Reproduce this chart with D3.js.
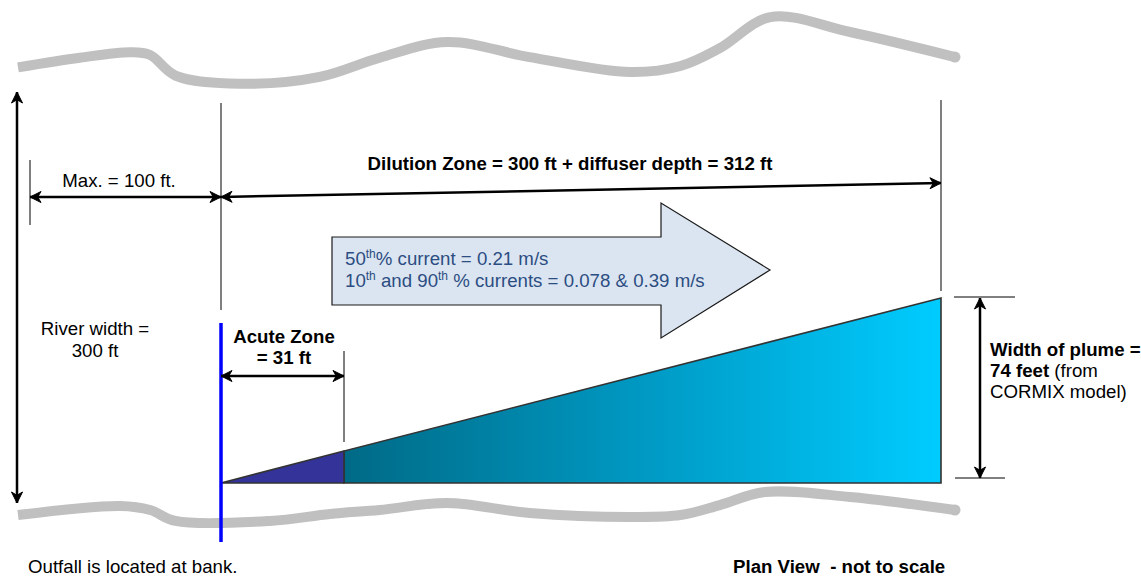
<!DOCTYPE html>
<html>
<head>
<meta charset="utf-8">
<script src="https://cdn.jsdelivr.net/npm/d3@7"></script>
<style>
  html, body { margin: 0; padding: 0; background: #fff; }
  svg { display: block; font-family: "Liberation Sans", Arial, sans-serif; }
  text { white-space: pre; }
</style>
</head>
<body>
<svg id="chart" width="1141" height="578"></svg>
<script>
// ---- Data (feet) ----
const zoneNames      = ["Upstream max", "Outfall", "Acute Zone", "Dilution Zone"];
const zoneDistanceFt = [-100, 0, 31, 312];        // distance along river from outfall
const plumeWidthFt   = [0, 12.8, 74];             // plume width at outfall, acute edge, dilution edge
const riverWidthFt   = 300;
const maxUpstreamFt  = 100;
const dilutionBaseFt = 300;
const currentPct     = ["10th", "50th", "90th"];
const currentMs      = [0.078, 0.21, 0.39];

// river bank outlines: position along reach (%) and across-river offset (ft)
const bankAlongPct   = [0, 6.6, 12.0, 14.1, 16.8, 23.7, 32.2, 38.6, 45.8, 54.6, 65.3, 70.7, 74.9, 80.3, 88.8, 100];
const topBankFt      = [318, 325, 329, 327, 312, 306, 311, 325, 336.5, 325.5, 314.6, 319, 332, 354.7, 343.8, 325.5];
const bottomAlongPct = [0, 10.9, 14.1, 16.8, 26.9, 33.3, 38.6, 45.8, 54.6, 65.3, 70.7, 74.9, 79.7, 88.8, 100];
const bottomBankFt   = [-8.8, -2.2, -5.1, -13.1, -13.1, -8.0, -5.1, 0, -7.3, -10.2, -8.8, -1.5, 8.0, 4.4, -5.1];

// ---- Scales (diagram is not to scale: piecewise along-river scale) ----
const FS = 18.67;
const svg = d3.select("#chart");
const x = d3.scaleLinear().domain(zoneDistanceFt).range([30, 221, 344, 941]);
const yRiver = d3.scaleLinear().domain([0, riverWidthFt]).range([503, 92]);
const yPlume = d3.scaleLinear().domain([0, d3.max(plumeWidthFt)]).range([483, 298]);
const xBank = d3.scaleLinear().domain([0, 100]).range([18, 955]);

const defs = svg.append("defs");
const grad = defs.append("linearGradient").attr("id", "plumeGrad")
  .attr("gradientUnits", "userSpaceOnUse")
  .attr("x1", x(31)).attr("x2", x(312)).attr("y1", 0).attr("y2", 0);
grad.append("stop").attr("offset", "0").attr("stop-color", "#006a86");
grad.append("stop").attr("offset", "0.5").attr("stop-color", "#0099c3");
grad.append("stop").attr("offset", "1").attr("stop-color", "#00ccff");

// ---- River banks ----
const line = d3.line().curve(d3.curveCatmullRom.alpha(0.5));
function bank(along, across) {
  const pts = along.map((p, i) => [xBank(p), yRiver(across[i])]);
  svg.append("path").attr("d", line(pts))
    .attr("fill", "none").attr("stroke", "#c0c0c0").attr("stroke-width", 10).attr("stroke-linecap", "butt");
  const e = pts[pts.length - 1];
  svg.append("circle").attr("cx", e[0]).attr("cy", e[1]).attr("r", 5.5).attr("fill", "#c0c0c0");
}
bank(bankAlongPct, topBankFt);
bank(bottomAlongPct, bottomBankFt);

// ---- helpers ----
function arrowHead(g, tx, ty, angle, len = 11, w = 11) {
  const a = angle, ca = Math.cos(a), sa = Math.sin(a);
  const bx = tx - len * ca, by = ty - len * sa;
  const px = -sa * w / 2, py = ca * w / 2;
  const nx = tx - len * 0.7 * ca, ny = ty - len * 0.7 * sa;
  g.append("path")
    .attr("d", `M${tx},${ty} L${bx + px},${by + py} L${nx},${ny} L${bx - px},${by - py} Z`)
    .attr("fill", "#000").attr("stroke", "#000").attr("stroke-width", 1).attr("stroke-linejoin", "miter");
}
function dimArrow(x1, y1, x2, y2, sw = 2.5) {
  const g = svg.append("g");
  g.append("line").attr("x1", x1).attr("y1", y1).attr("x2", x2).attr("y2", y2)
    .attr("stroke", "#000").attr("stroke-width", sw);
  const ang = Math.atan2(y2 - y1, x2 - x1);
  arrowHead(g, x2, y2, ang);
  arrowHead(g, x1, y1, ang + Math.PI);
  return g;
}
function vline(xx, y1, y2, color = "#000", sw = 1) {
  svg.append("line").attr("x1", xx).attr("x2", xx).attr("y1", y1).attr("y2", y2)
    .attr("stroke", color).attr("stroke-width", sw);
}
function hline(x1, x2, yy) {
  svg.append("line").attr("x1", x1).attr("x2", x2).attr("y1", yy).attr("y2", yy)
    .attr("stroke", "#000").attr("stroke-width", 1);
}

// ---- River width arrow ----
dimArrow(17, yRiver(riverWidthFt), 17, yRiver(0));
svg.append("text").attr("x", 95).attr("y", 335).attr("text-anchor", "middle").attr("font-size", FS).text("River width =");
svg.append("text").attr("x", 95).attr("y", 357).attr("text-anchor", "middle").attr("font-size", FS).text(`${riverWidthFt} ft`);

// ---- Reference lines ----
vline(x(0), 103, 310);
vline(x(312), 100, 291);
vline(x(-100), 160, 225);
vline(x(31), 351, 442);

// ---- Max upstream ----
dimArrow(x(-100), 197, x(0), 197);
svg.append("text").attr("x", 119).attr("y", 187).attr("text-anchor", "middle").attr("font-size", FS)
  .text(`Max. = ${maxUpstreamFt} ft.`);

// ---- Dilution zone ----
dimArrow(x(0), 197, x(312), 183);
svg.append("text").attr("x", 570).attr("y", 170).attr("text-anchor", "middle").attr("font-size", FS)
  .attr("font-weight", "bold")
  .text(`Dilution Zone = ${dilutionBaseFt} ft + diffuser depth = ${zoneDistanceFt[3]} ft`);

// ---- Current block arrow ----
const bx0 = 332, bx1 = 661, tipX = 770, tipY = 270, bTop = 237, bBot = 305, hTop = 203, hBot = 338;
svg.append("path")
  .attr("d", `M${bx0},${bTop} L${bx1},${bTop} L${bx1},${hTop} L${tipX},${tipY} L${bx1},${hBot} L${bx1},${bBot} L${bx0},${bBot} Z`)
  .attr("fill", "#dbe5f1").attr("stroke", "#1a1a1a").attr("stroke-width", 1.2);
const SUP = 12;
const ct = svg.append("text").attr("x", 345).attr("y", 265).attr("font-size", FS).attr("fill", "#2c4d82");
ct.append("tspan").text("50");
ct.append("tspan").attr("dy", -7).attr("font-size", SUP).text(currentPct[1].slice(2));
ct.append("tspan").attr("dy", 7).text(`% current = ${currentMs[1]} m/s`);
const ct2 = svg.append("text").attr("x", 345).attr("y", 287).attr("font-size", FS).attr("fill", "#2c4d82");
ct2.append("tspan").text("10");
ct2.append("tspan").attr("dy", -7).attr("font-size", SUP).text(currentPct[0].slice(2));
ct2.append("tspan").attr("dy", 7).text(" and 90");
ct2.append("tspan").attr("dy", -7).attr("font-size", SUP).text(currentPct[2].slice(2));
ct2.append("tspan").attr("dy", 7).text(` % currents = ${currentMs[0]} & ${currentMs[2]} m/s`);

// ---- Plume ----
svg.append("path")
  .attr("d", d3.line()([[x(31), yPlume(0)], [x(312), yPlume(0)], [x(312), yPlume(plumeWidthFt[2])], [x(31), yPlume(plumeWidthFt[1])]]) + "Z")
  .attr("fill", "url(#plumeGrad)").attr("stroke", "#333").attr("stroke-width", 1.6).attr("stroke-linejoin", "miter");
svg.append("path")
  .attr("d", d3.line()([[x(0), yPlume(plumeWidthFt[0])], [x(31), yPlume(0)], [x(31), yPlume(plumeWidthFt[1])]]) + "Z")
  .attr("fill", "#333399").attr("stroke", "#333").attr("stroke-width", 1.6).attr("stroke-linejoin", "round");

// Outfall (blue)
vline(x(0), 323, 542, "#0000ff", 3.5);

// ---- Acute zone ----
dimArrow(x(0), 376, x(31), 376);
svg.append("text").attr("x", 284).attr("y", 343).attr("text-anchor", "middle").attr("font-size", FS)
  .attr("font-weight", "bold").text("Acute Zone");
svg.append("text").attr("x", 284).attr("y", 364).attr("text-anchor", "middle").attr("font-size", FS)
  .attr("font-weight", "bold").text(`= ${zoneDistanceFt[2]} ft`);

// ---- Plume width ----
hline(954, 1015, yPlume(plumeWidthFt[2]) - 1);
hline(955, 1005, 478);
dimArrow(980, yPlume(plumeWidthFt[2]), 980, 478);
svg.append("text").attr("x", 990).attr("y", 356).attr("font-size", FS).attr("font-weight", "bold").text("Width of plume =");
const pw = svg.append("text").attr("x", 990).attr("y", 377).attr("font-size", FS);
pw.append("tspan").attr("font-weight", "bold").text(`${plumeWidthFt[2]} feet`);
pw.append("tspan").text(" (from");
svg.append("text").attr("x", 990).attr("y", 398).attr("font-size", FS).text("CORMIX model)");

// ---- Footer notes ----
svg.append("text").attr("x", 28).attr("y", 573).attr("font-size", FS).text("Outfall is located at bank.");
svg.append("text").attr("x", 733).attr("y", 573).attr("font-size", FS).attr("font-weight", "bold").text("Plan View  - not to scale");
</script>
</body>
</html>
